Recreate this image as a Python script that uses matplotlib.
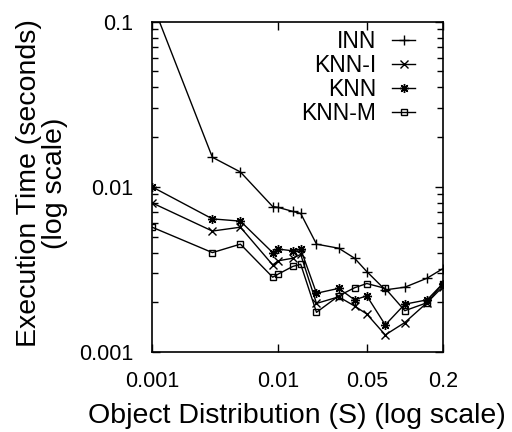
import numpy as np
import matplotlib.pyplot as plt
from matplotlib.ticker import FixedLocator, FixedFormatter, LogLocator, NullLocator, NullFormatter

plt.rcParams['font.family'] = ['Liberation Sans', 'DejaVu Sans']

s_vals = [0.001, 0.003, 0.005, 0.009, 0.01, 0.013, 0.015, 0.02, 0.03, 0.04, 0.05, 0.07, 0.1, 0.15, 0.2]

inn = [0.13, 0.0151, 0.0123, 0.0076, 0.0075, 0.0071, 0.0069, 0.0045, 0.00425, 0.0037,
       0.00307, 0.00238, 0.00247, 0.0028, 0.0032]
knn_i = [0.008, 0.0054, 0.0057, 0.00337, 0.00357, 0.0037, 0.0039, 0.00197, 0.00216, 0.0019,
         0.0017, 0.00127, 0.00151, 0.00199, 0.00249]
knn = [0.01, 0.0064, 0.0062, 0.0040, 0.0042, 0.0041, 0.0042, 0.00227, 0.00243, 0.00207,
       0.00219, 0.00146, 0.00195, 0.00207, 0.0026]
knn_m = [0.0057, 0.0040, 0.0045, 0.00284, 0.00297, 0.0033, 0.0034, 0.00174, 0.00219, 0.00245,
         0.0026, 0.00243, 0.00178, 0.00199, 0.0026]

x_ticks = [0.001, 0.01, 0.05, 0.2]
x_tick_labels = ['0.001', '0.01', '0.05', '0.2']
y_ticks = [0.001, 0.01, 0.1]
y_tick_labels = ['0.001', '0.01', '0.1']

fig = plt.figure(figsize=(5.12, 4.32), dpi=100)
ax = fig.add_axes([0.297, 0.185, 0.568, 0.765])

kw = dict(color='black', lw=1.0, clip_on=True)
ax.plot(s_vals, inn, marker='+', ms=6.5, mew=1.0, label='INN', **kw)
ax.plot(s_vals, knn_i, marker='x', ms=5.5, mew=1.0, label='KNN-I', **kw)
ax.plot(s_vals, knn, marker=(8, 2, 0), ms=6.5, mew=1.0, label='KNN', **kw)
ax.plot(s_vals, knn_m, marker='s', ms=5, mew=1.0, mfc='none', label='KNN-M', **kw)

ax.set_xscale('log')
ax.set_yscale('log')
ax.set_xlim(0.001, 0.2)
ax.set_ylim(0.001, 0.1)

ax.xaxis.set_major_locator(FixedLocator(x_ticks))
ax.xaxis.set_major_formatter(FixedFormatter(x_tick_labels))
ax.xaxis.set_minor_locator(NullLocator())
ax.yaxis.set_major_locator(FixedLocator(y_ticks))
ax.yaxis.set_major_formatter(FixedFormatter(y_tick_labels))
ax.yaxis.set_minor_locator(LogLocator(base=10, subs=np.arange(2, 10)))
ax.yaxis.set_minor_formatter(NullFormatter())

ax.tick_params(which='both', direction='in', top=True, right=True, labelsize=15.5, width=1.0, pad=13.5)
ax.tick_params(which='major', length=5.5)
ax.tick_params(which='minor', length=4)
for sp in ax.spines.values():
    sp.set_linewidth(1.2)

# axis titles placed by hand, as gnuplot does
fig.text(297 / 512, 1 - 423 / 432, 'Object Distribution (S) (log scale)', fontsize=20.5,
         ha='center', va='baseline')
fig.text(29.5 / 512, 1 - 183 / 432, 'Execution Time (seconds)', fontsize=20.5,
         rotation=90, ha='center', va='center')
fig.text(54.5 / 512, 1 - 183 / 432, '(log scale)', fontsize=20.5,
         rotation=90, ha='center', va='center')

ax.legend(loc='upper right', bbox_to_anchor=(0.904, 0.975), frameon=False, markerfirst=False,
          fontsize=16.5, handlelength=1.0, handletextpad=0.7, labelspacing=0.05,
          borderpad=0, borderaxespad=0)

fig.savefig('out.png', dpi=100)
